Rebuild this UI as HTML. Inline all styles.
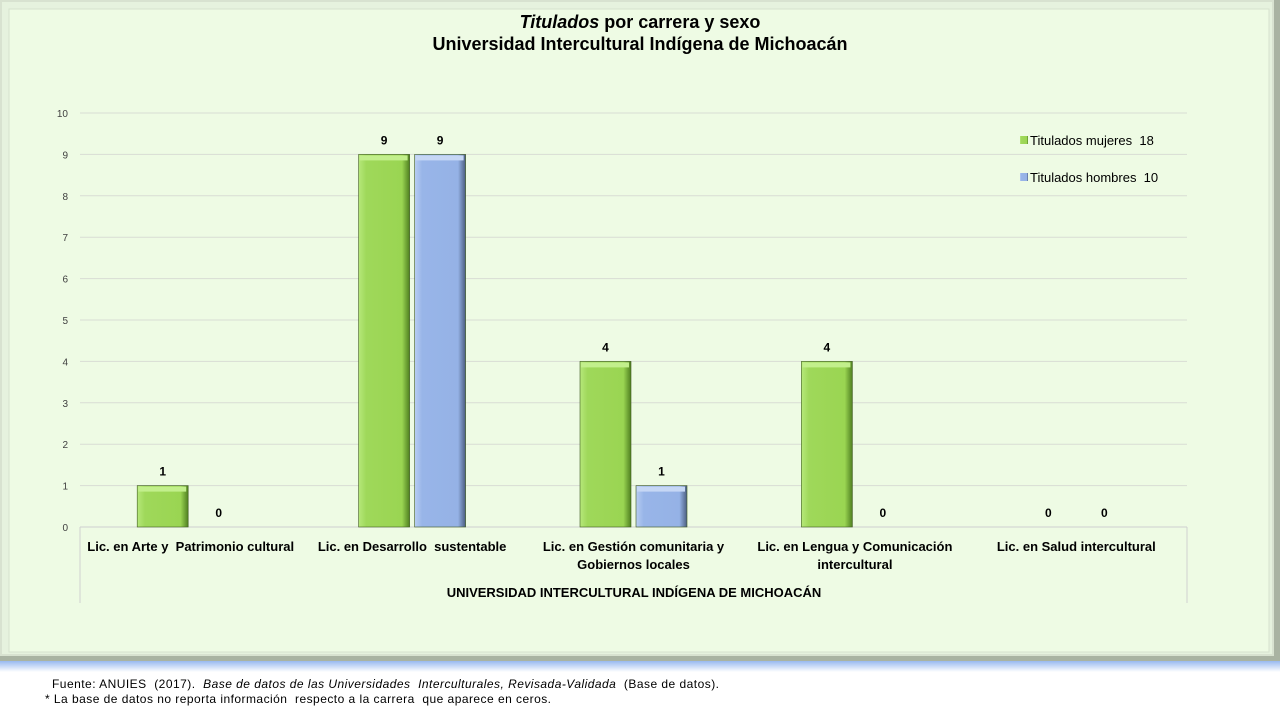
<!DOCTYPE html>
<html><head><meta charset="utf-8"><style>
body{margin:0;width:1280px;height:720px;background:#fff;position:relative;overflow:hidden;font-family:"Liberation Sans",sans-serif}
text{white-space:pre}
</style></head><body>
<svg width="1280" height="720" xmlns="http://www.w3.org/2000/svg">
<defs>
<linearGradient id="g" x1="0" x2="1"><stop offset="0" stop-color="#b6e87a"/><stop offset="0.15" stop-color="#9fd85a"/><stop offset="0.85" stop-color="#9ad552"/><stop offset="1" stop-color="#4f7f20"/></linearGradient>
<linearGradient id="b" x1="0" x2="1"><stop offset="0" stop-color="#b8cdf2"/><stop offset="0.15" stop-color="#98b5e8"/><stop offset="0.85" stop-color="#95b2e6"/><stop offset="1" stop-color="#4b5d80"/></linearGradient>
<linearGradient id="glow" x1="0" y1="0" x2="0" y2="1"><stop offset="0" stop-color="#8fb3ef"/><stop offset="1" stop-color="#ffffff"/></linearGradient>
</defs>
<rect x="0" y="660" width="1280" height="12" fill="url(#glow)"/>
<rect x="0" y="0" width="1280" height="661" fill="#a9b3a2"/>
<rect x="0" y="0" width="1274" height="656" fill="#d8e2d0"/>
<rect x="2" y="2" width="1270" height="652" fill="#e6f2de"/>
<rect x="9" y="9" width="1260" height="643" fill="#eefbe4" stroke="#d6e2ce" stroke-width="1"/>
<text x="640" y="28" text-anchor="middle" font-size="18" font-weight="bold" fill="#000"><tspan font-style="italic">Titulados</tspan> por carrera y sexo</text>
<text x="640" y="50" text-anchor="middle" font-size="18" font-weight="bold" fill="#000">Universidad Intercultural Indígena de Michoacán</text>
<g id="grid"></g>
<g id="bars"></g>
<g id="labels"></g>
<line x1="80" y1="527" x2="80" y2="603" stroke="#d0d0d0"/>
<line x1="1187" y1="527" x2="1187" y2="603" stroke="#d0d0d0"/>
<text x="634" y="597" text-anchor="middle" font-size="13" font-weight="bold" fill="#000">UNIVERSIDAD INTERCULTURAL INDÍGENA DE MICHOACÁN</text>
<g>
<rect x="1020" y="136" width="8" height="8" fill="url(#g)"/>
<text x="1030" y="145" font-size="13" fill="#000">Titulados mujeres  18</text>
<rect x="1020" y="173" width="8" height="8" fill="url(#b)"/>
<text x="1030" y="182" font-size="13" fill="#000">Titulados hombres  10</text>
</g>
<text x="52" y="688" font-size="12" fill="#000" textLength="667" lengthAdjust="spacing">Fuente: ANUIES  (2017).  <tspan font-style="italic">Base de datos de las Universidades  Interculturales, Revisada-Validada</tspan>  (Base de datos).</text>
<text x="45" y="703" font-size="12" fill="#000" textLength="506" lengthAdjust="spacing">* La base de datos no reporta información  respecto a la carrera  que aparece en ceros.</text>
</svg>
<script>
const categories=[["Lic. en Arte y  Patrimonio cultural"],["Lic. en Desarrollo  sustentable"],["Lic. en Gestión comunitaria y","Gobiernos locales"],["Lic. en Lengua y Comunicación","intercultural"],["Lic. en Salud intercultural"]];
const mujeres=[1,9,4,4,0];
const hombres=[0,9,1,0,0];
const yTicks=[0,1,2,3,4,5,6,7,8,9,10];
const NS="http://www.w3.org/2000/svg";
const x0=80,x1=1187,y0=527,y1=113,ymax=10;
const y=v=>y0-(y0-y1)*v/ymax;
const bandW=(x1-x0)/categories.length;
const cx=i=>x0+bandW*(i+0.5);
const bw=51,gap=5;
function mk(t,a,p){const e=document.createElementNS(NS,t);for(const k in a)e.setAttribute(k,a[k]);p.appendChild(e);return e;}
const grid=document.getElementById('grid'),bars=document.getElementById('bars'),labels=document.getElementById('labels');
yTicks.forEach(v=>{
 const l=mk('line',{x1:x0,x2:x1,y1:y(v),y2:y(v),stroke:v===0?'#cfcfcf':'#d8ddd4'},grid);
 
 
 const t=mk('text',{x:68,y:y(v)+4,'text-anchor':'end','font-size':'10',fill:'#404040'},grid);
 
 
 t.textContent=v;
});
function bar(i,v,off,fill,top,name){
 const xl=cx(i)+off;
 if(v>0){
  const r=mk('rect',{x:xl,y:y(v),width:bw,height:y(0)-y(v),fill:fill,stroke:'#3e5a20','stroke-width':0.6},bars);
  
  
  const h=mk('rect',{x:xl+1,y:y(v)+1,width:bw-3,height:5,fill:top},bars);
  
  
 }
 const t=mk('text',{x:xl+bw/2,y:y(v)-10,'text-anchor':'middle','font-size':'12','font-weight':'bold',fill:'#000'},labels);
 
 
 t.textContent=v;
}
categories.forEach((c,i)=>{
 bar(i,mujeres[i],-bw-gap/2,'url(#g)','#c2ef8c','mujeres');
 bar(i,hombres[i],gap/2,'url(#b)','#c6d7f5','hombres');
 c.forEach((line,j)=>{
  const t=mk('text',{x:cx(i),y:551+j*18,'text-anchor':'middle','font-size':'13','font-weight':'bold',fill:'#000'},labels);
  
  
  t.textContent=line;
 });
});
</script>
</body></html>
